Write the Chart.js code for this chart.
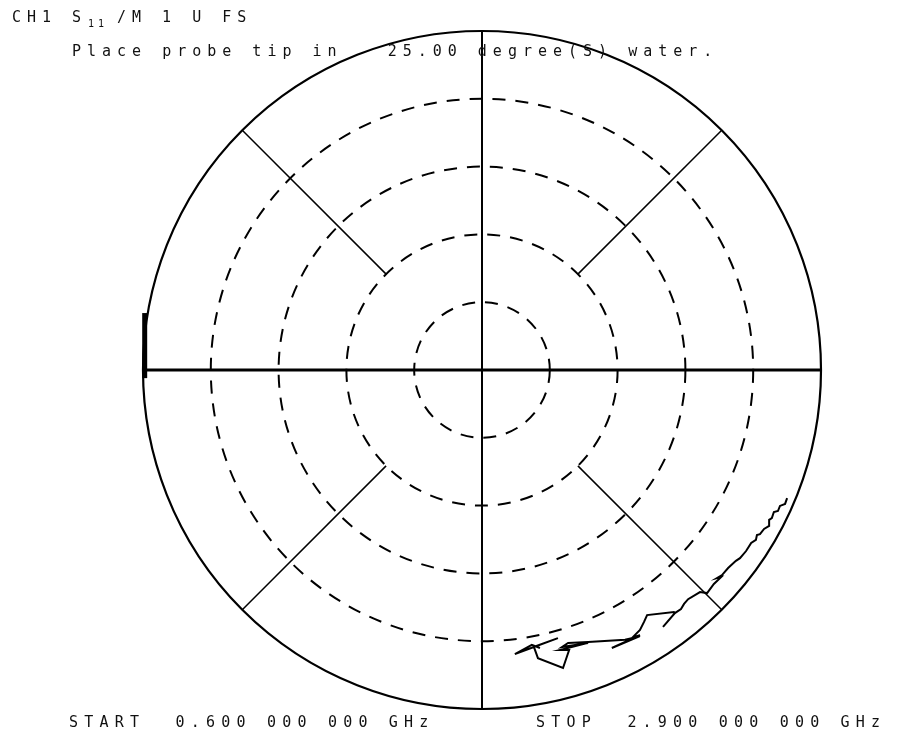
<!DOCTYPE html>
<html>
<head>
<meta charset="utf-8">
<script src="https://cdn.jsdelivr.net/npm/chart.js@4/dist/chart.umd.min.js"></script>
<style>
  html, body { margin: 0; padding: 0; background: #fff; }
  #wrap { position: relative; width: 898px; height: 734px; }
  .lbl { position: absolute; font-family: "DejaVu Sans Mono", monospace; font-size: 15px; color: #111; white-space: pre; letter-spacing: 6px; line-height: 1; }
  .sub { font-size: 10px; letter-spacing: 4px; }
  .foot { letter-spacing: 6.2px; }
</style>
</head>
<body>
<div id="wrap">
  <canvas id="polar" width="898" height="734"></canvas>
  <div class="lbl" style="left:12px;top:10px">CH1 S</div>
  <div class="lbl sub" style="left:88px;top:19px">11</div>
  <div class="lbl" style="left:117px;top:10px">/M 1 U FS</div>
  <div class="lbl" style="left:72px;top:44px">Place probe tip in   25.00 degree(S) water.</div>
  <div class="lbl foot" style="left:69px;top:715px">START  0.600 000 000 GHz</div>
  <div class="lbl foot" style="left:536px;top:715px">STOP  2.900 000 000 GHz</div>
</div>
<script>
// S11 trace, real / imaginary part (linear, 1 U full scale), 0.6 -> 2.9 GHz
const s11Real = [0.900, 0.894, 0.879, 0.873, 0.861, 0.855, 0.847, 0.847, 0.832, 0.820,
  0.811, 0.808, 0.794, 0.779, 0.761, 0.749, 0.726, 0.708, 0.693, 0.705,
  0.684, 0.664, 0.643, 0.608, 0.596, 0.587, 0.569, 0.534, 0.569, 0.566,
  0.487, 0.478, 0.466, 0.445, 0.466, 0.383, 0.466, 0.422, 0.313, 0.254,
  0.236, 0.313, 0.230, 0.257, 0.239, 0.165, 0.153, 0.224, 0.153, 0.097,
  0.147, 0.171];
const s11Imag = [-0.378, -0.395, -0.401, -0.416, -0.419, -0.437, -0.442, -0.460, -0.469, -0.484,
  -0.487, -0.501, -0.510, -0.534, -0.555, -0.563, -0.584, -0.605, -0.614, -0.611,
  -0.631, -0.658, -0.655, -0.676, -0.690, -0.705, -0.717, -0.758, -0.717, -0.714,
  -0.723, -0.743, -0.767, -0.788, -0.782, -0.820, -0.785, -0.796, -0.802, -0.805,
  -0.817, -0.805, -0.826, -0.826, -0.879, -0.850, -0.817, -0.791, -0.817, -0.838,
  -0.811, -0.820];

// grid: magnitude rings (dashed), outer ring solid
const ringRadii = [0.2, 0.4, 0.6, 0.8];
const outerRadius = 1.0;
// diagonal spokes start at this radius
const spokeAngles = [45, 135, 225, 315];
const spokeStart = 0.4;
// reference marker on the left edge
const markerX = [-0.995, -0.995];
const markerY = [0.168, -0.024];

const points = s11Real.map((re, i) => ({ x: re, y: s11Imag[i] }));

const polarGrid = {
  id: 'polarGrid',
  beforeDatasetsDraw(chart) {
    const { ctx, scales: { x, y } } = chart;
    const cx = x.getPixelForValue(0), cy = y.getPixelForValue(0);
    const unit = x.getPixelForValue(1) - cx;
    ctx.save();
    ctx.strokeStyle = '#000';

    // dashed rings
    ctx.lineWidth = 2;
    ctx.setLineDash([13, 10]);
    ringRadii.forEach(r => {
      ctx.beginPath();
      ctx.arc(cx, cy, r * unit, 0, Math.PI * 2);
      ctx.stroke();
    });
    ctx.setLineDash([]);

    // outer ring
    ctx.lineWidth = 2.2;
    ctx.beginPath();
    ctx.arc(cx, cy, outerRadius * unit, 0, Math.PI * 2);
    ctx.stroke();

    // axes
    ctx.lineWidth = 3;
    ctx.beginPath();
    ctx.moveTo(x.getPixelForValue(-1), cy);
    ctx.lineTo(x.getPixelForValue(1), cy);
    ctx.stroke();
    ctx.lineWidth = 2;
    ctx.beginPath();
    ctx.moveTo(cx, y.getPixelForValue(1));
    ctx.lineTo(cx, y.getPixelForValue(-1));
    ctx.stroke();

    // spokes
    ctx.lineWidth = 1.5;
    spokeAngles.forEach(a => {
      const t = a * Math.PI / 180;
      ctx.beginPath();
      ctx.moveTo(x.getPixelForValue(spokeStart * Math.cos(t)), y.getPixelForValue(spokeStart * Math.sin(t)));
      ctx.lineTo(x.getPixelForValue(outerRadius * Math.cos(t)), y.getPixelForValue(outerRadius * Math.sin(t)));
      ctx.stroke();
    });

    // marker bar
    ctx.lineWidth = 5;
    ctx.beginPath();
    ctx.moveTo(x.getPixelForValue(markerX[0]), y.getPixelForValue(markerY[0]));
    ctx.lineTo(x.getPixelForValue(markerX[1]), y.getPixelForValue(markerY[1]));
    ctx.stroke();
    ctx.restore();
  }
};

new Chart(document.getElementById('polar'), {
  type: 'scatter',
  data: {
    datasets: [{
      label: 'S11',
      data: points,
      showLine: true,
      borderColor: '#000',
      borderWidth: 2,
      pointRadius: 0,
      tension: 0
    }]
  },
  options: {
    responsive: false,
    animation: false,
    layout: { padding: { left: 143, right: 77, top: 31, bottom: 25 } },
    plugins: { legend: { display: false }, tooltip: { enabled: false } },
    scales: {
      x: { type: 'linear', min: -1, max: 1, display: false },
      y: { type: 'linear', min: -1, max: 1, display: false }
    }
  },
  plugins: [polarGrid]
});
</script>
</body>
</html>
